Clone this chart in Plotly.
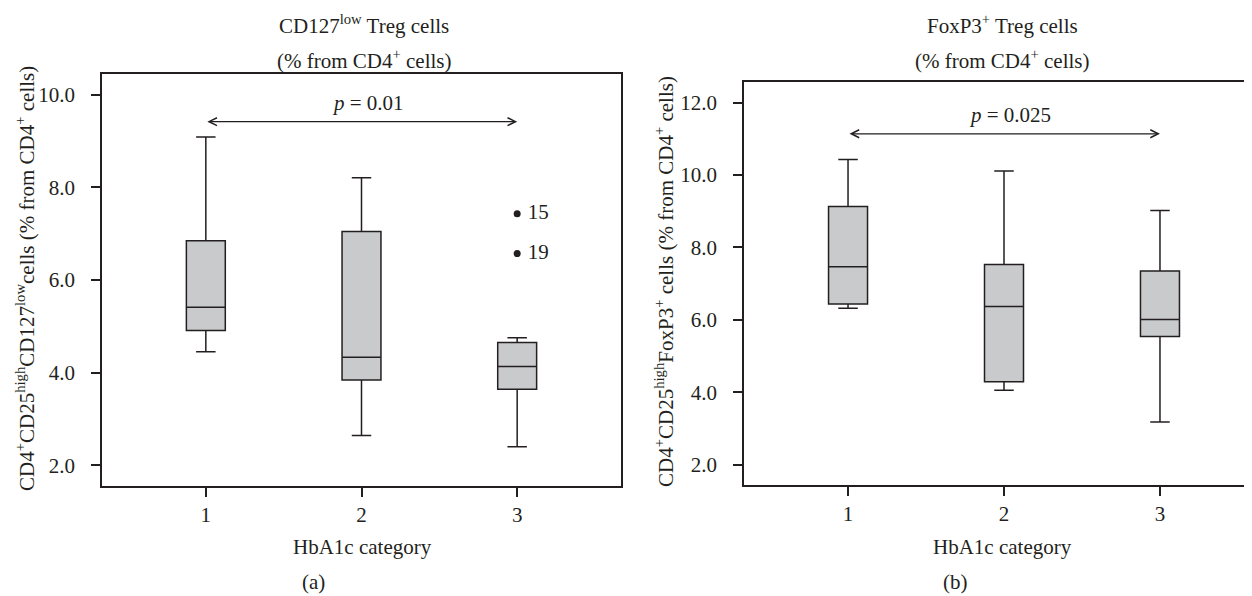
import plotly.graph_objects as go

# ---------------- data ----------------
categories = [1, 2, 3]
tick_labels = ["1", "2", "3"]

# Panel (a): CD127low Treg cells
a_upper = [9.09, 8.21, 4.75]
a_q3 = [6.85, 7.05, 4.65]
a_median = [5.41, 4.33, 4.13]
a_q1 = [4.91, 3.84, 3.64]
a_lower = [4.45, 2.64, 2.40]
a_outlier_x = [3, 3]
a_outlier_y = [7.43, 6.57]
a_outlier_ids = ["15", "19"]
a_p_text = "<i>p</i> = 0.01"
a_bracket = (1, 3, 9.42)

# Panel (b): FoxP3+ Treg cells
b_upper = [10.43, 10.11, 9.02]
b_q3 = [9.13, 7.53, 7.35]
b_median = [7.47, 6.37, 6.01]
b_q1 = [6.44, 4.29, 5.54]
b_lower = [6.32, 4.06, 3.18]
b_p_text = "<i>p</i> = 0.025"
b_bracket = (1, 3, 11.14)

a_yticks = [2.0, 4.0, 6.0, 8.0, 10.0]
b_yticks = [2.0, 4.0, 6.0, 8.0, 10.0, 12.0]

# ---------------- style ----------------
PAGE_W, PAGE_H = 1252, 596
OFF = 8  # default body margin of the html page
W, H = PAGE_W - OFF, PAGE_H - OFF
FONT = "Liberation Serif"
INK = "#231f20"
FILL = "#c9cacc"
FS = 21

def px_x(p):
    return (p - OFF) / W

def px_y(p):
    return 1 - (p - OFF) / H

fig = go.Figure()

box_common = dict(width=0.25, whiskerwidth=0.5, fillcolor=FILL,
                  line=dict(color=INK, width=1.5), boxpoints=False,
                  showlegend=False, hoverinfo="skip")

fig.add_trace(go.Box(x=categories, q1=a_q1, median=a_median, q3=a_q3,
                     lowerfence=a_lower, upperfence=a_upper,
                     xaxis="x", yaxis="y", **box_common))
fig.add_trace(go.Scatter(x=a_outlier_x, y=a_outlier_y, mode="markers+text",
                         text=[" " + t for t in a_outlier_ids],
                         textposition="middle right",
                         textfont=dict(family=FONT, size=FS, color=INK),
                         marker=dict(color=INK, size=7),
                         showlegend=False, xaxis="x", yaxis="y"))
fig.add_trace(go.Box(x=categories, q1=b_q1, median=b_median, q3=b_q3,
                     lowerfence=b_lower, upperfence=b_upper,
                     xaxis="x2", yaxis="y2", **box_common))

tickfont = dict(family=FONT, size=FS, color=INK)
axis_common = dict(showline=True, linecolor=INK, linewidth=1.5,
                   ticks="outside", ticklen=9, tickwidth=1.5, tickcolor=INK,
                   showgrid=False, zeroline=False, tickfont=tickfont)

fig.update_layout(
    width=W, height=H,
    margin=dict(l=0, r=0, t=0, b=0),
    paper_bgcolor="white", plot_bgcolor="white",
    font=dict(family=FONT, color=INK, size=FS),
    xaxis=dict(domain=[px_x(102), px_x(621)], range=[0.333, 3.667],
               tickvals=categories, ticktext=tick_labels, mirror=True,
               anchor="y", **axis_common),
    yaxis=dict(domain=[px_y(486), px_y(74)], range=[1.55, 10.45],
               tickvals=a_yticks, tickformat=".1f", ticklabelstandoff=12,
               mirror=True, anchor="x", **axis_common),
    xaxis2=dict(domain=[px_x(744), 1.0], range=[0.333, 3.59],
                tickvals=categories, ticktext=tick_labels, mirror=True,
                anchor="y2", **axis_common),
    yaxis2=dict(domain=[px_y(485), px_y(82)], range=[1.44, 12.57],
                tickvals=b_yticks, tickformat=".1f", ticklabelstandoff=12,
                mirror=False, anchor="x2", **axis_common),
)

ann = []

def text(x, y, s, **kw):
    d = dict(x=x, y=y, xref="paper", yref="paper", text=s, showarrow=False,
             font=dict(family=FONT, size=FS, color=INK),
             xanchor="center", yanchor="middle")
    d.update(kw)
    ann.append(d)

# titles
text(px_x(364), px_y(25), "CD127<sup>low</sup> Treg cells")
text(px_x(364), px_y(59), "(% from CD4<sup>+</sup> cells)")
text(px_x(1003), px_y(25), "FoxP3<sup>+</sup> Treg cells")
text(px_x(1003), px_y(60), "(% from CD4<sup>+</sup> cells)")

# y-axis titles
text(px_x(25), px_y(279),
     "CD4<sup>+</sup>CD25<sup>high</sup>CD127<sup>low</sup>cells (% from CD4<sup>+</sup> cells)",
     textangle=-90)
text(px_x(664), px_y(281),
     "CD4<sup>+</sup>CD25<sup>high</sup>FoxP3<sup>+</sup> cells (% from CD4<sup>+</sup> cells)",
     textangle=-90)

# x-axis titles and panel labels
text(px_x(362), px_y(547), "HbA1c category")
text(px_x(1003), px_y(547), "HbA1c category")
text(px_x(313), px_y(582), "(a)")
text(px_x(955), px_y(582), "(b)")

# comparison brackets
for (x0, x1, yb), xr, yr, ptxt in [(a_bracket, "x", "y", a_p_text),
                                    (b_bracket, "x2", "y2", b_p_text)]:
    ann.append(dict(x=x1, y=yb, ax=x0, ay=yb, xref=xr, yref=yr,
                    axref=xr, ayref=yr, text="", showarrow=True,
                    arrowhead=5, startarrowhead=5, arrowside="end+start",
                    arrowsize=1.3, startarrowsize=1.3,
                    arrowwidth=1.2, arrowcolor=INK))
    ann.append(dict(x=(x0 + x1) / 2 + 0.04, y=yb, xref=xr, yref=yr,
                    text=ptxt, showarrow=False, yshift=19,
                    font=dict(family=FONT, size=FS, color=INK)))

fig.update_layout(annotations=ann)

fig.write_html("out.html")
